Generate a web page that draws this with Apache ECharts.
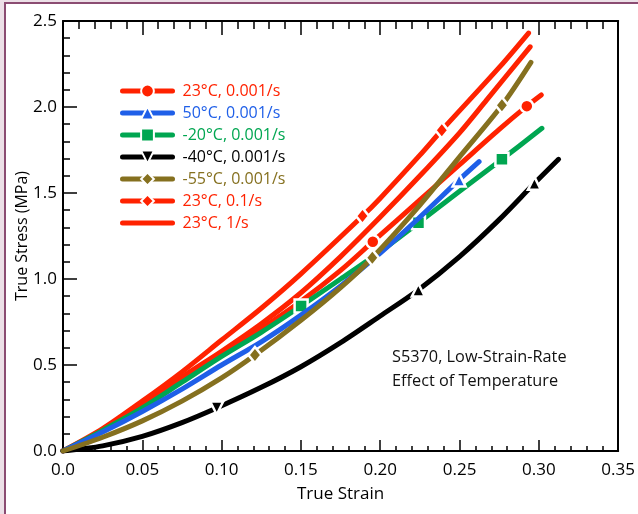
<!DOCTYPE html>
<html><head><meta charset="utf-8">
<script src="https://cdn.jsdelivr.net/npm/echarts@6/dist/echarts.min.js"></script>
<style>
html,body{margin:0;padding:0;background:#fff;}
#c{width:638px;height:514px;}
</style></head><body>
<div id="c"></div>
<script>
// ---- data ----
const seriesNames = ['23°C, 0.001/s','50°C, 0.001/s','-20°C, 0.001/s','-40°C, 0.001/s','-55°C, 0.001/s','23°C, 0.1/s','23°C, 1/s'];

const s23slowX = [0,0.025,0.05,0.075,0.1,0.125,0.15,0.175,0.1953,0.225,0.25,0.275,0.2924,0.3015];
const s23slowY = [0,0.12,0.26,0.41,0.56,0.71,0.87,1.05,1.217,1.46,1.665,1.87,2.005,2.07];
const s23slowMarks = [0.1953,0.2924];

const s50X = [0,0.025,0.05,0.075,0.1,0.125,0.15,0.175,0.2,0.225,0.2497,0.2623];
const s50Y = [0,0.11,0.23,0.36,0.5,0.635,0.79,0.96,1.15,1.36,1.576,1.682];
const s50Marks = [0.2497];

const sM20X = [0,0.025,0.05,0.075,0.1,0.125,0.1501,0.175,0.2,0.2241,0.25,0.2767,0.3019];
const sM20Y = [0,0.12,0.25,0.4,0.55,0.69,0.843,1.0,1.16,1.327,1.51,1.696,1.876];
const sM20Marks = [0.1501,0.2241,0.2767];

const sM40X = [0,0.025,0.05,0.075,0.0969,0.125,0.15,0.175,0.2,0.224,0.25,0.275,0.2972,0.3124];
const sM40Y = [0,0.03,0.085,0.165,0.25,0.37,0.49,0.63,0.785,0.936,1.13,1.345,1.556,1.696];
const sM40Marks = [0.0969,0.224,0.2972];

const sM55X = [0,0.025,0.05,0.075,0.1,0.121,0.15,0.175,0.195,0.225,0.25,0.2767,0.295];
const sM55Y = [0,0.08,0.175,0.29,0.425,0.558,0.76,0.95,1.124,1.43,1.71,2.01,2.26];
const sM55Marks = [0.121,0.195,0.2767];

const s23midX = [0,0.025,0.05,0.075,0.1,0.125,0.15,0.1888,0.2,0.225,0.2388,0.275,0.2935];
const s23midY = [0,0.13,0.29,0.46,0.645,0.83,1.03,1.366,1.47,1.72,1.865,2.23,2.43];
const s23midMarks = [0.1888,0.2388];

const s23fastX = [0,0.025,0.05,0.075,0.1,0.125,0.15,0.175,0.2,0.225,0.25,0.267,0.2945];
const s23fastY = [0,0.12,0.27,0.43,0.58,0.74,0.92,1.13,1.36,1.6,1.85,2.04,2.35];
const s23fastMarks = [];

const xTickMin = 0, xTickMax = 0.35, xTickStep = 0.05;
const yTickMin = 0, yTickMax = 2.5, yTickStep = 0.5;

// ---- styles ----
const RED = '#ff2200', BLUE = '#1f5fe8', GREEN = '#00a651', BLACK = '#000000', OLIVE = '#85701f';
const FONT = '"Open Sans", "Noto Sans", sans-serif';

function build(xs, ys, marks, rotFn) {
  return xs.map((x, i) => {
    if (marks.indexOf(x) >= 0) {
      const item = { value: [x, ys[i]] };
      if (rotFn) item.symbolRotate = rotFn(marks.indexOf(x));
      return item;
    }
    return { value: [x, ys[i]], symbol: 'none' };
  });
}

function mk(name, color, symbol, size, data, z, extra) {
  return Object.assign({
    name, type: 'line', data, smooth: 0.3, symbol, symbolSize: size,
    showAllSymbol: true, z,
    lineStyle: { width: 5, color, cap: 'round', join: 'round' },
    itemStyle: { color, borderColor: '#fff', borderWidth: 2.5 },
    emphasis: { disabled: true }
  }, extra || {});
}

const series = [
  mk(seriesNames[6], RED, 'circle', 0, build(s23fastX, s23fastY, s23fastMarks), 2),
  mk(seriesNames[5], RED, 'diamond', [13, 16], build(s23midX, s23midY, s23midMarks), 2),
  mk(seriesNames[0], RED, 'circle', 13, build(s23slowX, s23slowY, s23slowMarks), 3),
  mk(seriesNames[2], GREEN, 'rect', 13, build(sM20X, sM20Y, sM20Marks), 4),
  mk(seriesNames[1], BLUE, 'triangle', 13, build(s50X, s50Y, s50Marks), 5),
  mk(seriesNames[3], BLACK, 'triangle', 13, build(sM40X, sM40Y, sM40Marks, i => (i === 0 ? 180 : 0)), 6, { symbolRotate: 180 }),
  mk(seriesNames[4], OLIVE, 'diamond', [13, 16], build(sM55X, sM55Y, sM55Marks), 7)
];

const legendColors = [RED, BLUE, GREEN, BLACK, OLIVE, RED, RED];

const chart = echarts.init(document.getElementById('c'), null, { renderer: 'canvas' });
const tickCommon = { color: '#000', width: 1.5 };
chart.setOption({
  animation: false,
  backgroundColor: '#fff',
  grid: { left: 63, right: 19, top: 21, bottom: 63, containLabel: false },
  legend: {
    orient: 'vertical', left: 115, top: 78,
    itemWidth: 50, itemHeight: 16, itemGap: 6,
    lineStyle: { width: 5, cap: 'round' },
    data: seriesNames.map((n, i) => {
      const d = { name: n, textStyle: { color: legendColors[i] } };
      if (i === 6) d.itemStyle = { opacity: 0 };
      return d;
    }),
    textStyle: { fontSize: 16, fontFamily: FONT, lineHeight: 16, padding: [0, 0, 0, 5] },
    selectedMode: false
  },
  xAxis: [
    {
      type: 'value', min: xTickMin, max: xTickMax, interval: xTickStep, position: 'bottom',
      axisLine: { show: true, onZero: false, lineStyle: { color: '#000', width: 2 } },
      axisTick: { show: true, inside: true, length: 11, lineStyle: tickCommon },
      minorTick: { show: true, splitNumber: 5, length: 5, lineStyle: tickCommon },
      splitLine: { show: false },
      axisLabel: { color: '#000', fontSize: 17, fontFamily: FONT, margin: 11,
        formatter: v => (v === 0 ? '0.0' : v.toFixed(2)) },
      name: 'True Strain', nameLocation: 'middle', nameGap: 35, nameMoveOverlap: false,
      nameTextStyle: { color: '#000', fontSize: 17, fontFamily: FONT }
    },
    {
      type: 'value', min: xTickMin, max: xTickMax, interval: xTickStep, position: 'top',
      axisLine: { show: true, onZero: false, lineStyle: { color: '#000', width: 2 } },
      axisTick: { show: true, inside: true, length: 14, lineStyle: tickCommon },
      minorTick: { show: true, splitNumber: 5, length: 8, lineStyle: tickCommon },
      splitLine: { show: false },
      axisLabel: { show: false }
    }
  ],
  yAxis: [
    {
      type: 'value', min: yTickMin, max: yTickMax, interval: yTickStep, position: 'left',
      axisLine: { show: true, onZero: false, lineStyle: { color: '#000', width: 2 } },
      axisTick: { show: true, inside: true, length: 14, lineStyle: tickCommon },
      minorTick: { show: true, splitNumber: 5, length: 7, lineStyle: tickCommon },
      splitLine: { show: false },
      axisLabel: { color: '#000', fontSize: 17, fontFamily: FONT, margin: 6,
        formatter: v => v.toFixed(1) },
      name: 'True Stress (MPa)', nameLocation: 'middle', nameGap: 33, nameMoveOverlap: false,
      nameTextStyle: { color: '#000', fontSize: 16, fontFamily: FONT }
    },
    {
      type: 'value', min: yTickMin, max: yTickMax, interval: yTickStep, position: 'right',
      axisLine: { show: true, onZero: false, lineStyle: { color: '#000', width: 2 } },
      axisTick: { show: false }, minorTick: { show: false },
      splitLine: { show: false }, axisLabel: { show: false }
    }
  ],
  graphic: [
    { type: 'rect', left: 0, top: 0, shape: { width: 4, height: 514 }, style: { fill: '#ece0e7' }, z: -10 },
    { type: 'rect', left: 0, top: 0, shape: { width: 638, height: 2 }, style: { fill: '#ece0e7' }, z: -10 },
    { type: 'rect', left: 4, top: 2, shape: { width: 2, height: 512 }, style: { fill: '#8b4c72' }, z: -9 },
    { type: 'rect', left: 4, top: 2, shape: { width: 634, height: 2 }, style: { fill: '#8b4c72' }, z: -9 },
    { type: 'text', left: 392, top: 345, z: 10,
      style: { text: 'S5370, Low-Strain-Rate\nEffect of Temperature', fill: '#111',
        font: '16.3px "Open Sans", "Noto Sans", sans-serif', lineHeight: 24 } }
  ],
  series
});
</script></body></html>
